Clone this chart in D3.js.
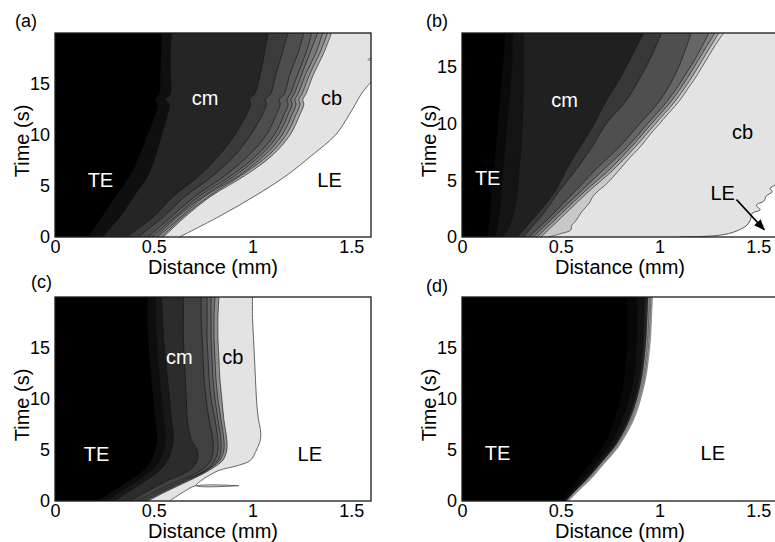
<!DOCTYPE html>
<html>
<head>
<meta charset="utf-8">
<script src="https://cdn.jsdelivr.net/npm/d3@7"></script>
<style>
  body { margin: 0; background: #fff; }
  svg { display: block; font-family: "Liberation Sans", Arial, sans-serif; }
</style>
</head>
<body>
<svg id="chart" width="775" height="542"></svg>
<script>

// ---- data (distance in mm of each contour edge, at the given times in s) ----

var distanceTicks = [0, 0.5, 1, 1.5];
var timeTicks = [0, 5, 10, 15];
var panelLetters = ['(a)', '(b)', '(c)', '(d)'];

// (a)
var timesA = [0, 2, 4, 6, 8, 10, 12, 13, 13.5, 14, 16, 18, 20];
var edgesA = [
  [0.17, 0.24, 0.31, 0.38, 0.43, 0.47, 0.51, 0.52, 0.51, 0.53, 0.535, 0.54, 0.54],
  [0.24, 0.33, 0.40, 0.47, 0.51, 0.54, 0.57, 0.58, 0.56, 0.585, 0.585, 0.585, 0.59],
  [0.36, 0.50, 0.60, 0.73, 0.83, 0.91, 0.97, 0.99, 0.985, 1.01, 1.04, 1.06, 1.08],
  [0.42, 0.55, 0.66, 0.80, 0.91, 0.99, 1.05, 1.07, 1.065, 1.09, 1.12, 1.15, 1.18],
  [0.47, 0.59, 0.71, 0.86, 0.98, 1.07, 1.12, 1.14, 1.135, 1.16, 1.19, 1.23, 1.26],
  [0.49, 0.61, 0.73, 0.89, 1.02, 1.11, 1.16, 1.18, 1.175, 1.19, 1.23, 1.27, 1.30],
  [0.51, 0.62, 0.75, 0.91, 1.04, 1.13, 1.18, 1.20, 1.195, 1.21, 1.25, 1.29, 1.33],
  [0.52, 0.64, 0.76, 0.93, 1.06, 1.15, 1.20, 1.22, 1.215, 1.23, 1.27, 1.32, 1.355],
  [0.54, 0.65, 0.78, 0.94, 1.08, 1.17, 1.22, 1.24, 1.235, 1.25, 1.29, 1.34, 1.38],
  [0.55, 0.66, 0.79, 0.96, 1.10, 1.19, 1.24, 1.26, 1.255, 1.27, 1.31, 1.36, 1.40]
];
var leTimesA = [0, 2, 4, 6, 8, 10, 12, 13, 14, 15.2, 16, 17, 17.4, 17.8, 20];
var leDistA = [0.63, 0.83, 1.01, 1.17, 1.30, 1.42, 1.49, 1.52, 1.55, 1.60, 1.64, 1.64, 1.585, 1.64, 1.64];

// (b)
var timesB = [0, 1, 2, 4, 6, 8, 10, 12, 14, 16, 18];
var edgesB = [
  [0.13, 0.14, 0.145, 0.155, 0.165, 0.175, 0.185, 0.195, 0.205, 0.215, 0.22],
  [0.17, 0.18, 0.19, 0.20, 0.21, 0.22, 0.23, 0.24, 0.25, 0.255, 0.26],
  [0.21, 0.24, 0.26, 0.28, 0.29, 0.30, 0.305, 0.31, 0.31, 0.31, 0.31],
  [0.28, 0.33, 0.38, 0.47, 0.53, 0.60, 0.67, 0.73, 0.80, 0.86, 0.92],
  [0.31, 0.36, 0.41, 0.49, 0.58, 0.66, 0.73, 0.83, 0.90, 0.96, 1.01],
  [0.34, 0.40, 0.46, 0.57, 0.68, 0.80, 0.90, 1.00, 1.07, 1.12, 1.16],
  [0.36, 0.42, 0.48, 0.60, 0.72, 0.84, 0.94, 1.04, 1.12, 1.19, 1.25],
  [0.38, 0.44, 0.50, 0.62, 0.75, 0.86, 0.96, 1.06, 1.14, 1.21, 1.28],
  [0.40, 0.46, 0.52, 0.64, 0.77, 0.88, 0.98, 1.08, 1.16, 1.23, 1.30]
];
var cbTimesB = [0, 0.3, 0.6, 1.0, 1.4, 1.8, 2.2, 2.6, 3.0, 3.5, 4.0, 4.5, 5.0, 6, 7, 8, 9, 10, 11, 12, 13, 14, 15, 16, 17, 18];
var cbDistB = [0.44, 0.50, 0.55, 0.555, 0.575, 0.59, 0.605, 0.625, 0.645, 0.66, 0.685, 0.72, 0.75, 0.80, 0.85, 0.905, 0.95, 1.00, 1.05, 1.10, 1.14, 1.18, 1.215, 1.25, 1.285, 1.325];
var leTimesB = [0, 0.05, 0.15, 0.3, 0.6, 1.0, 1.5, 2.1, 2.4, 2.8, 3.2, 3.6, 4.0, 4.3, 4.6, 5.0, 18];
var leDistB = [1.10, 1.22, 1.30, 1.35, 1.40, 1.44, 1.46, 1.47, 1.51, 1.49, 1.53, 1.54, 1.57, 1.56, 1.59, 1.65, 1.65];

// (c)
var timesC = [0, 1, 2, 3, 4, 5, 6, 8, 10, 12, 14, 16, 18, 20];
var edgesC = [
  [0.22, 0.30, 0.38, 0.45, 0.49, 0.51, 0.52, 0.51, 0.50, 0.49, 0.48, 0.475, 0.47, 0.47],
  [0.26, 0.34, 0.42, 0.49, 0.53, 0.55, 0.56, 0.55, 0.54, 0.53, 0.52, 0.515, 0.51, 0.51],
  [0.30, 0.38, 0.46, 0.53, 0.57, 0.59, 0.60, 0.59, 0.58, 0.57, 0.56, 0.55, 0.545, 0.54],
  [0.38, 0.47, 0.57, 0.68, 0.72, 0.72, 0.69, 0.67, 0.665, 0.66, 0.655, 0.65, 0.65, 0.65],
  [0.42, 0.52, 0.63, 0.74, 0.79, 0.80, 0.80, 0.78, 0.765, 0.755, 0.75, 0.745, 0.74, 0.74],
  [0.44, 0.54, 0.65, 0.76, 0.81, 0.825, 0.825, 0.81, 0.79, 0.78, 0.775, 0.77, 0.77, 0.77],
  [0.45, 0.55, 0.66, 0.765, 0.825, 0.84, 0.84, 0.825, 0.81, 0.80, 0.795, 0.79, 0.79, 0.79],
  [0.46, 0.56, 0.67, 0.77, 0.835, 0.855, 0.855, 0.84, 0.825, 0.815, 0.81, 0.805, 0.805, 0.81],
  [0.47, 0.57, 0.68, 0.78, 0.85, 0.87, 0.87, 0.855, 0.845, 0.835, 0.83, 0.825, 0.825, 0.83]
];
var leTimesC = [0, 1, 1.48, 1.5, 1.52, 2, 2.5, 3, 3.5, 4, 5, 6, 7, 8, 10, 12, 14, 16, 18, 20];
var leDistC = [0.58, 0.66, 0.71, 0.93, 0.715, 0.74, 0.78, 0.83, 0.93, 0.99, 1.02, 1.04, 1.04, 1.03, 1.02, 1.015, 1.01, 1.005, 1.00, 1.00];

// (d)
var timesD = [0, 1, 2, 3, 4, 5, 6, 8, 10, 12, 14, 16, 18, 20];
var edgesD = [
  [0.50, 0.54, 0.58, 0.62, 0.66, 0.70, 0.73, 0.77, 0.80, 0.82, 0.83, 0.835, 0.835, 0.835],
  [0.515, 0.56, 0.605, 0.65, 0.69, 0.73, 0.765, 0.81, 0.845, 0.87, 0.88, 0.885, 0.885, 0.885],
  [0.525, 0.572, 0.622, 0.668, 0.71, 0.753, 0.789, 0.84, 0.876, 0.90, 0.913, 0.921, 0.925, 0.928],
  [0.53, 0.578, 0.63, 0.676, 0.72, 0.764, 0.80, 0.853, 0.889, 0.913, 0.927, 0.936, 0.941, 0.945],
  [0.534, 0.583, 0.636, 0.682, 0.726, 0.77, 0.806, 0.86, 0.895, 0.92, 0.935, 0.945, 0.95, 0.954],
  [0.537, 0.587, 0.641, 0.686, 0.731, 0.776, 0.811, 0.865, 0.90, 0.926, 0.941, 0.951, 0.956, 0.96],
  [0.54, 0.59, 0.645, 0.69, 0.735, 0.78, 0.815, 0.87, 0.905, 0.93, 0.945, 0.955, 0.96, 0.965]
];

// ---- drawing ----

var svg = d3.select('#chart');

function points(times, dists)
{
  return times.map((t, i) => ({t: t, d: dists[i]}));
}

class ContourPanel
{
  constructor(id, left, top, tMax)
  {
    this.id = id;
    this.left = left;
    this.top = top;
    this.width = 316;
    this.height = 204;

    this.x = d3.scaleLinear().domain([0, 1.6]).range([0, this.width]);
    this.y = d3.scaleLinear().domain([0, tMax]).range([this.height, 0]);

    this.g = svg.append('g').attr('transform', 'translate(' + left + ',' + top + ')');

    svg.append('clipPath')
       .attr('id', id + '-clip')
       .append('rect')
       .attr('width', this.width)
       .attr('height', this.height);

    this.body = this.g.append('g').attr('clip-path', 'url(#' + id + '-clip)');
  }

  // edges are ordered left to right; fill of an edge is the band just left of it
  draw_bands(edges)
  {
    var area = d3.area()
                 .curve(d3.curveCatmullRom)
                 .y(p => this.y(p.t))
                 .x0(this.x(0))
                 .x1(p => this.x(p.d));
    var line = d3.line()
                 .curve(d3.curveCatmullRom)
                 .y(p => this.y(p.t))
                 .x(p => this.x(p.d));

    edges.slice().reverse().forEach(e => {
      this.body.append('path').datum(e.pts).attr('fill', e.fill).attr('d', area);
    });

    edges.forEach(e => {
      this.body.append('path')
               .datum(e.pts)
               .attr('fill', 'none')
               .attr('stroke', e.stroke)
               .attr('stroke-width', e.sw)
               .attr('d', line);
    });
  }

  draw_axes(letter, titleOffset)
  {
    var xa = this.g.append('g')
                   .attr('transform', 'translate(0,' + this.height + ')')
                   .call(d3.axisBottom(this.x).tickValues(distanceTicks).tickSize(0).tickPadding(3).tickFormat(d => d));
    var ya = this.g.append('g')
                   .call(d3.axisLeft(this.y).tickValues(timeTicks).tickSize(0).tickPadding(5));

    [xa, ya].forEach(a => {
      a.attr('font-size', 18).attr('font-family', null);
      a.select('.domain').remove();
      a.selectAll('text').attr('fill', '#000');
    });

    this.g.append('rect')
          .attr('width', this.width)
          .attr('height', this.height)
          .attr('fill', 'none')
          .attr('stroke', '#1a1a1a')
          .attr('stroke-width', 1.3);

    this.g.append('text')
          .attr('x', this.width / 2)
          .attr('y', this.height + titleOffset)
          .attr('text-anchor', 'middle')
          .attr('font-size', 20)
          .text('Distance (mm)');

    this.g.append('text')
          .attr('transform', 'translate(-26,' + (this.height / 2 + 6) + ') rotate(-90)')
          .attr('text-anchor', 'middle')
          .attr('font-size', 20)
          .text('Time (s)');

    this.g.append('text')
          .attr('x', letter.dx)
          .attr('y', letter.dy)
          .attr('font-size', 18)
          .text(letter.text);
  }

  label(text, d, t, color)
  {
    this.g.append('text')
          .attr('x', this.x(d))
          .attr('y', this.y(t))
          .attr('dy', '0.36em')
          .attr('text-anchor', 'middle')
          .attr('font-size', 20)
          .attr('fill', color)
          .text(text);
  }
}

function make_edges(times, edgeList, fills, stroke)
{
  return edgeList.map((e, k) => ({pts: points(times, e), fill: fills[k], stroke: stroke, sw: 0.6}));
}

// (a)
var pa = new ContourPanel('pa', 55, 33, 20);
var bandsA = make_edges(timesA, edgesA,
  ['#000', '#0f0f0f', '#252525', '#3b3b3b', '#4d4d4d', '#5c5c5c', '#6a6a6a', '#7a7a7a', '#8c8c8c', '#a5a5a5'], '#111');
bandsA.push({pts: points(leTimesA, leDistA), fill: '#e3e3e3', stroke: '#555', sw: 0.9});
pa.draw_bands(bandsA);
pa.draw_axes({text: panelLetters[0], dx: -40, dy: -6}, 37);
pa.label('TE', 0.23, 5.6, '#fff');
pa.label('cm', 0.76, 13.6, '#fff');
pa.label('cb', 1.40, 13.6, '#000');
pa.label('LE', 1.39, 5.6, '#000');

// (b)
var pb = new ContourPanel('pb', 462, 33, 18);
var bandsB = make_edges(timesB, edgesB,
  ['#000', '#0a0a0a', '#141414', '#202020', '#383838', '#4f4f4f', '#666666', '#808080', '#a0a0a0'], '#111');
bandsB.push({pts: points(cbTimesB, cbDistB), fill: '#c8c8c8', stroke: '#333', sw: 0.7});
bandsB.push({pts: points(leTimesB, leDistB), fill: '#e3e3e3', stroke: '#444', sw: 0.9});
pb.draw_bands(bandsB);
pb.draw_axes({text: panelLetters[1], dx: -36, dy: -6}, 37);
pb.label('TE', 0.13, 5.2, '#fff');
pb.label('cm', 0.52, 12.1, '#fff');
pb.label('cb', 1.42, 9.3, '#000');
pb.label('LE', 1.32, 3.9, '#000');

svg.append('defs').append('marker')
   .attr('id', 'arrow')
   .attr('viewBox', '0 0 10 10')
   .attr('refX', 9).attr('refY', 5)
   .attr('markerWidth', 7).attr('markerHeight', 7)
   .attr('orient', 'auto')
   .append('path').attr('d', 'M0,1 L10,5 L0,9 Z').attr('fill', '#000');

pb.g.append('line')
    .attr('x1', pb.x(1.39)).attr('y1', pb.y(3.3))
    .attr('x2', pb.x(1.53)).attr('y2', pb.y(0.65))
    .attr('stroke', '#000')
    .attr('stroke-width', 1.6)
    .attr('marker-end', 'url(#arrow)');

// (c)
var pc = new ContourPanel('pc', 55, 297, 20);
var bandsC = make_edges(timesC, edgesC,
  ['#000', '#0d0d0d', '#181818', '#2c2c2c', '#404040', '#505050', '#606060', '#727272', '#8e8e8e'], '#111');
bandsC.push({pts: points(leTimesC, leDistC), fill: '#e3e3e3', stroke: '#555', sw: 0.9});
pc.draw_bands(bandsC);
pc.draw_axes({text: panelLetters[2], dx: -24, dy: -9}, 37);
pc.label('TE', 0.21, 4.6, '#fff');
pc.label('cm', 0.63, 14.1, '#fff');
pc.label('cb', 0.90, 14.1, '#000');
pc.label('LE', 1.29, 4.6, '#000');

// (d)
var pd = new ContourPanel('pd', 462, 297, 20);
var bandsD = make_edges(timesD, edgesD,
  ['#000', '#080808', '#121212', '#262626', '#5a5a5a', '#3a3a3a', '#8a8a8a'], '#bbb');
bandsD[0].stroke = '#000';
bandsD[1].stroke = '#0a0a0a';
bandsD[2].stroke = '#222';
bandsD[6].stroke = '#777';
pd.draw_bands(bandsD);
pd.draw_axes({text: panelLetters[3], dx: -36, dy: -5}, 37);
pd.label('TE', 0.18, 4.7, '#fff');
pd.label('LE', 1.27, 4.7, '#000');

</script>
</body>
</html>
